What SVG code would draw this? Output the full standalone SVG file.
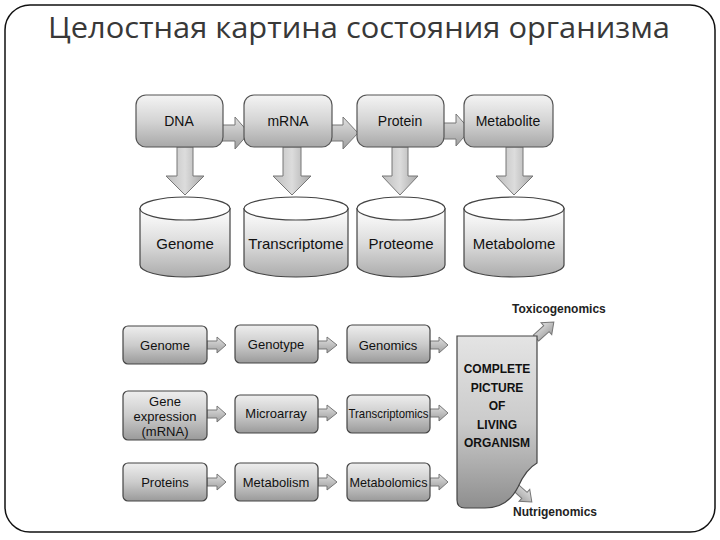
<svg xmlns="http://www.w3.org/2000/svg" width="720" height="540" viewBox="0 0 720 540">
<defs>
<linearGradient id="gBox" x1="0" y1="0" x2="0" y2="1">
<stop offset="0" stop-color="#f4f4f4"/><stop offset="0.5" stop-color="#d4d4d4"/><stop offset="1" stop-color="#a8a8a8"/>
</linearGradient>
<linearGradient id="gSmall" x1="0" y1="0" x2="0" y2="1">
<stop offset="0" stop-color="#eeeeee"/><stop offset="0.5" stop-color="#cccccc"/><stop offset="1" stop-color="#9a9a9a"/>
</linearGradient>
<linearGradient id="gCyl" x1="0" y1="0" x2="0" y2="1">
<stop offset="0" stop-color="#ffffff"/><stop offset="0.5" stop-color="#dcdcdc"/><stop offset="1" stop-color="#acacac"/>
</linearGradient>
<linearGradient id="gArrV" x1="0" y1="0" x2="1" y2="0">
<stop offset="0" stop-color="#bdbdbd"/><stop offset="0.5" stop-color="#dcdcdc"/><stop offset="1" stop-color="#a8a8a8"/>
</linearGradient>
<linearGradient id="gArrH" x1="0" y1="0" x2="0" y2="1">
<stop offset="0" stop-color="#e0e0e0"/><stop offset="1" stop-color="#a0a0a0"/>
</linearGradient>
<linearGradient id="gBig" x1="0" y1="0" x2="0" y2="1">
<stop offset="0" stop-color="#e4e4e4"/><stop offset="0.5" stop-color="#cbcbcb"/><stop offset="1" stop-color="#8e8e8e"/>
</linearGradient>
<style>
.frame{fill:#fff;stroke:#111;stroke-width:1.5}
.title{font-family:"Open Sans","Noto Sans",sans-serif;font-size:30px;fill:#383838}
.top{fill:url(#gBox);stroke:#555;stroke-width:1.2}
.sm{fill:url(#gSmall);stroke:#444;stroke-width:1.2}
.cyl{fill:url(#gCyl);stroke:#444;stroke-width:1.2}
.cylTop{fill:#fff;stroke:#444;stroke-width:1.2}
.av{fill:url(#gArrV);stroke:#777;stroke-width:1}
.ah{fill:url(#gArrH);stroke:#777;stroke-width:1}
.big{fill:url(#gBig);stroke:#444;stroke-width:1.2}
.t{font-family:"Liberation Sans",Arial,sans-serif;fill:#111;text-anchor:middle}
.t14{font-size:14px}
.t15{font-size:15px}
.t13{font-size:13px}
.b{font-family:"Liberation Sans",Arial,sans-serif;font-weight:bold;font-size:12px;fill:#111;text-anchor:middle}
.bl{font-family:"Liberation Sans",Arial,sans-serif;font-weight:bold;font-size:12px;fill:#222}
</style>
</defs>
<rect class="frame" x="5" y="5" width="710" height="527" rx="25"/>
<text class="title" x="48" y="38" textLength="622" lengthAdjust="spacingAndGlyphs">Целостная картина состояния организма</text>

<g id="connectors">
<path class="ah" d="M222,125 H235 V117 L249,133 L235,149 V141 H222 Z"/>
<path class="ah" d="M331,125 H343 V117 L358,133 L343,149 V141 H331 Z"/>
<path class="ah" d="M443,123 H456 V114 L470,130 L456,146 V139 H443 Z"/>
<path class="av" d="M177,147 V176 H166 L185,195 L204,176 H193 V147 Z"/>
<path class="av" d="M283,147 V176 H273 L292,195 L311,176 H301 V147 Z"/>
<path class="av" d="M392,147 V176 H382 L400,195 L418,176 H408 V147 Z"/>
<path class="av" d="M506,147 V176 H496 L514,195 L533,176 H523 V147 Z"/>
<path class="ah" d="M207,341 H217 V337 L226,345 L217,353 V349 H207 Z"/>
<path class="ah" d="M318,341 H327 V337 L337,345 L327,353 V349 H318 Z"/>
<path class="ah" d="M430,341 H439 V337 L448,345 L439,353 V349 H430 Z"/>
<path class="ah" d="M207,410 H217 V406 L226,414 L217,422 V418 H207 Z"/>
<path class="ah" d="M318,409 H327 V405 L337,413 L327,421 V417 H318 Z"/>
<path class="ah" d="M430,409 H439 V405 L448,413 L439,421 V417 H430 Z"/>
<path class="ah" d="M207,478 H217 V474 L226,482 L217,490 V486 H207 Z"/>
<path class="ah" d="M318,478 H327 V474 L337,482 L327,490 V486 H318 Z"/>
<path class="ah" d="M430,478 H439 V474 L448,482 L439,490 V486 H430 Z"/>
<path class="ah" transform="translate(536,338) rotate(-42)" d="M0,-4 H14 V-8 L24,0 L14,8 V4 H0 Z"/>
<path class="ah" transform="translate(514,486) rotate(42)" d="M0,-4 H14 V-8 L24,0 L14,8 V4 H0 Z"/>
</g>

<g id="dna"><rect class="top" x="136" y="95" width="87" height="52" rx="10"/><text class="t t14" x="179" y="126">DNA</text></g>
<g id="mrna"><rect class="top" x="244" y="95" width="88" height="52" rx="10"/><text class="t t14" x="288" y="126">mRNA</text></g>
<g id="protein"><rect class="top" x="357" y="95" width="87" height="52" rx="10"/><text class="t t14" x="400" y="126">Protein</text></g>
<g id="metabolite"><rect class="top" x="464" y="95" width="89" height="52" rx="10"/><text class="t t14" x="508" y="126">Metabolite</text></g>

<g id="genome-db"><path class="cyl" d="M140,208.5 V265 A45,12 0 0 0 230,265 V208.5 Z"/><ellipse class="cylTop" cx="185" cy="208.5" rx="45" ry="11.5"/><text class="t t15" x="185" y="249">Genome</text></g>
<g id="transcriptome-db"><path class="cyl" d="M244,208.5 V265 A52,12 0 0 0 348,265 V208.5 Z"/><ellipse class="cylTop" cx="296" cy="208.5" rx="52" ry="11.5"/><text class="t t15" x="296" y="249">Transcriptome</text></g>
<g id="proteome-db"><path class="cyl" d="M357,208.5 V265 A44,12 0 0 0 445,265 V208.5 Z"/><ellipse class="cylTop" cx="401" cy="208.5" rx="44" ry="11.5"/><text class="t t15" x="401" y="249">Proteome</text></g>
<g id="metabolome-db"><path class="cyl" d="M464,208.5 V265 A50,12 0 0 0 564,265 V208.5 Z"/><ellipse class="cylTop" cx="514" cy="208.5" rx="50" ry="11.5"/><text class="t t15" x="514" y="249">Metabolome</text></g>

<g id="genome"><rect class="sm" x="123" y="326" width="84" height="38" rx="5"/><text class="t t13" x="165" y="350">Genome</text></g>
<g id="genotype"><rect class="sm" x="235" y="325" width="83" height="38" rx="5"/><text class="t t13" x="276" y="349">Genotype</text></g>
<g id="genomics"><rect class="sm" x="347" y="325" width="83" height="38" rx="5"/><text class="t t13" x="388" y="350">Genomics</text></g>

<g id="gene-expression"><rect class="sm" x="123" y="391" width="84" height="49" rx="5"/><text class="t t13" x="165" y="406">Gene</text><text class="t t13" x="165" y="421">expression</text><text class="t t13" x="165" y="436">(mRNA)</text></g>
<g id="microarray"><rect class="sm" x="235" y="395" width="83" height="38" rx="5"/><text class="t t13" x="276" y="418">Microarray</text></g>
<g id="transcriptomics"><rect class="sm" x="347" y="395" width="83" height="38" rx="5"/><text class="t t13" x="388.5" y="418" textLength="80" lengthAdjust="spacingAndGlyphs">Transcriptomics</text></g>

<g id="proteins"><rect class="sm" x="123" y="463" width="84" height="38" rx="5"/><text class="t t13" x="165" y="487">Proteins</text></g>
<g id="metabolism"><rect class="sm" x="235" y="463" width="83" height="38" rx="5"/><text class="t t13" x="276" y="487">Metabolism</text></g>
<g id="metabolomics"><rect class="sm" x="347" y="463" width="83" height="38" rx="5"/><text class="t t13" x="388.5" y="487" textLength="78" lengthAdjust="spacingAndGlyphs">Metabolomics</text></g>

<g id="complete-picture">
<path class="big" d="M457,336 H537 V463 C528,468 522,478 518,487 C511,501 500,508 485,508 H465 Q457,508 457,500 Z"/>
<text class="b" x="497" y="373">COMPLETE</text>
<text class="b" x="497" y="392">PICTURE</text>
<text class="b" x="497" y="410">OF</text>
<text class="b" x="497" y="429">LIVING</text>
<text class="b" x="497" y="447">ORGANISM</text>
</g>
<g id="toxicogenomics"><text class="bl" x="512" y="313">Toxicogenomics</text></g>
<g id="nutrigenomics"><text class="bl" x="513" y="516">Nutrigenomics</text></g>
</svg>
